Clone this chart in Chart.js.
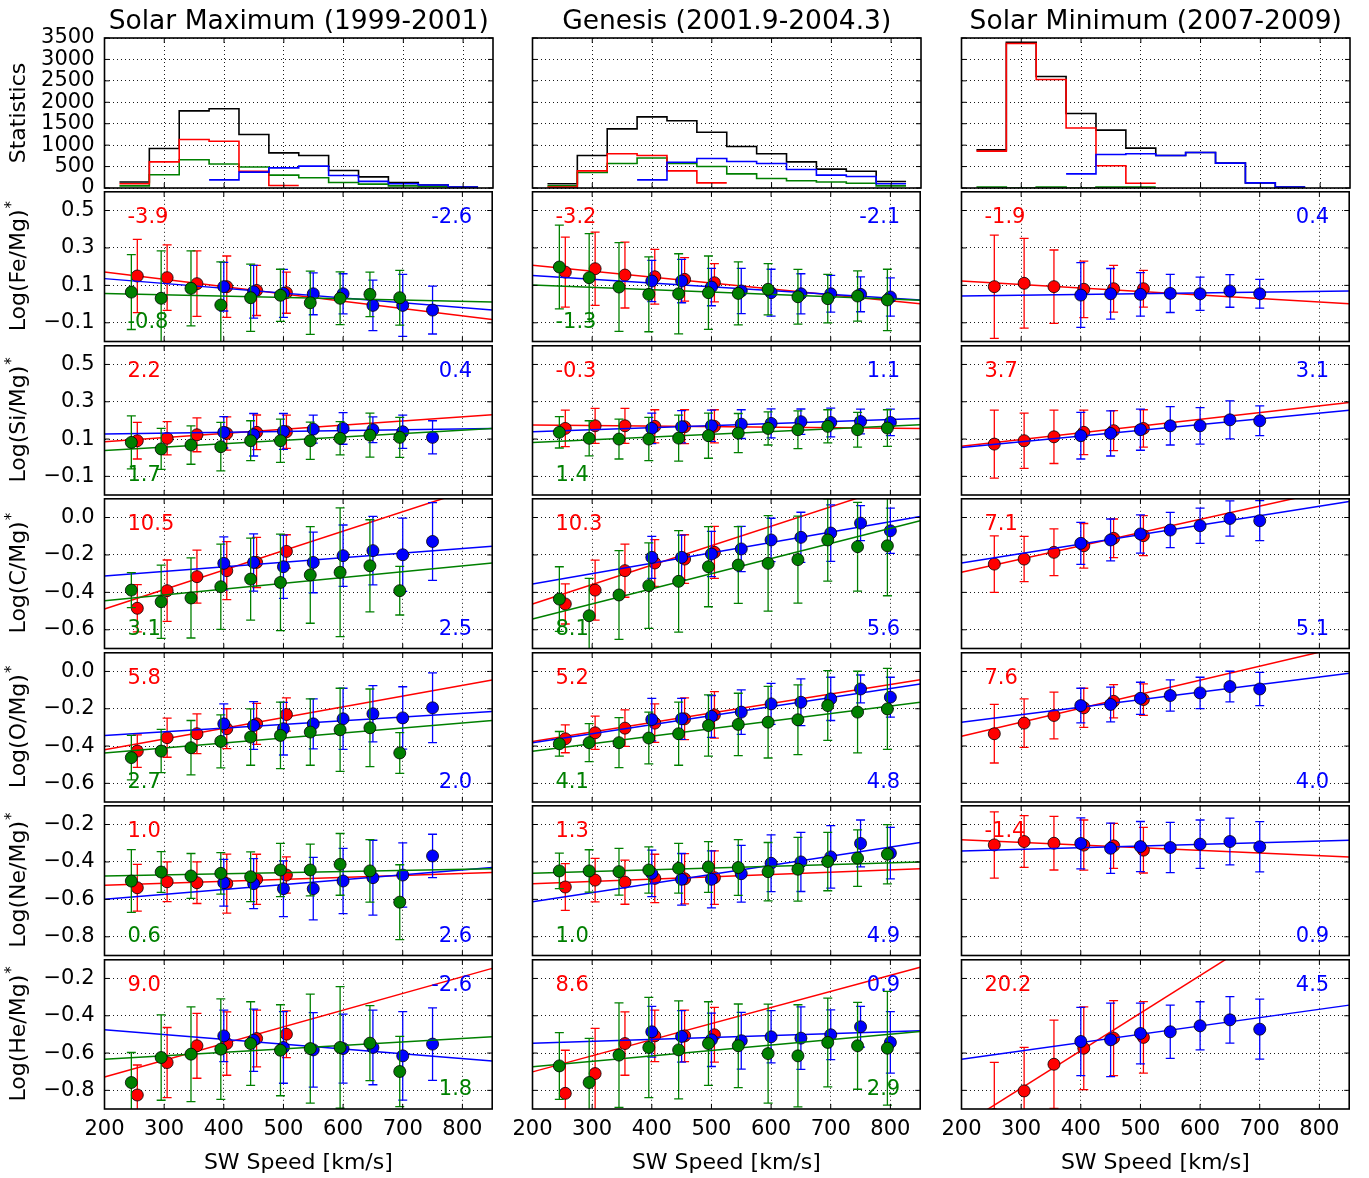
<!DOCTYPE html>
<html>
<head>
<meta charset="utf-8">
<title>Abundance ratios vs solar wind speed</title>
<script src="https://cdn.jsdelivr.net/npm/chart.js@4.4.1/dist/chart.umd.min.js"></script>
<style>
  html, body { margin: 0; padding: 0; background: #fff; }
  #figure { position: relative; width: 1369px; height: 1178px; overflow: hidden; background: #fff; }
  #figure canvas { position: absolute; }
</style>
</head>
<body>
<div id="figure"></div>
<script>
const FONT = '"DejaVu Sans", sans-serif';
const COLORS = {
    red: '#ff0000',
    blue: '#0000ff',
    green: '#008000',
    black: '#000000',
};

const COLUMN_TITLES = ['Solar Maximum (1999-2001)', 'Genesis (2001.9-2004.3)', 'Solar Minimum (2007-2009)'];
const ROW_LABELS = ['Statistics', 'Log(Fe/Mg)', 'Log(Si/Mg)', 'Log(C/Mg)', 'Log(O/Mg)', 'Log(Ne/Mg)', 'Log(He/Mg)'];
const X_LABEL = 'SW Speed [km/s]';
const X_MIN = 200, X_MAX = 850;
const X_TICKS = [200, 300, 400, 500, 600, 700, 800];
const HIST_TICKS = [0, 500, 1000, 1500, 2000, 2500, 3000, 3500];
const FE_SI_TICKS = [-0.1, 0.1, 0.3, 0.5];
const C_O_TICKS = [-0.6, -0.4, -0.2, 0.0];
const NE_HE_TICKS = [-0.8, -0.6, -0.4, -0.2];
const ROW_RANGES = [[0, 3500], [-0.2, 0.6], [-0.2, 0.6], [-0.7, 0.1], [-0.7, 0.1], [-0.9, -0.1], [-0.9, -0.1]];
const ROW_TICKS = [HIST_TICKS, FE_SI_TICKS, FE_SI_TICKS, C_O_TICKS, C_O_TICKS, NE_HE_TICKS, NE_HE_TICKS];

// histogram counts per 50 km/s bin (null = no entry)
const HIST_BINS = [250, 300, 350, 400, 450, 500, 550, 600, 650, 700, 750, 800];
const HIST_BIN_WIDTH = 50;
const maxHistAll   = [140, 920, 1800, 1850, 1250, 820, 760, 410, 260, 130, 70, 20];
const maxHistRed   = [100, 610, 1130, 1090, 390, 60, null, null, null, null, null, null];
const maxHistBlue  = [null, null, null, 190, 370, 470, 510, 290, 155, 100, 70, 20];
const maxHistGreen = [50, 310, 660, 560, 490, 300, 240, 130, 90, 50, 30, null];
const genHistAll   = [100, 760, 1380, 1660, 1570, 1300, 970, 800, 610, 440, 390, 150];
const genHistRed   = [20, 400, 800, 760, 400, 120, null, null, null, null, null, null];
const genHistBlue  = [null, null, null, 190, 600, 690, 620, 570, 430, 300, 270, 100];
const genHistGreen = [50, 360, 570, 700, 570, 500, 330, 220, 170, 140, 110, 50];
const minHistAll   = [890, 3400, 2600, 1740, 1350, 930, 760, 830, 580, 120, 20, null];
const minHistRed   = [860, 3370, 2530, 1400, 520, 110, null, null, null, null, null, null];
const minHistBlue  = [null, null, null, 330, 780, 800, 760, 830, 580, 120, 20, null];
const minHistGreen = [20, 0, 20, 0, 20, 20, null, null, null, null, null, null];

// speed positions of the points
const RED_X = [255, 305, 355, 405, 455, 505];
const MAX_BLUE_X = [400, 450, 500, 550, 600, 650, 700, 750];
const MAX_GREEN_X = [245, 295, 345, 395, 445, 495, 545, 595, 645, 695];
const GEN_BLUE_X = [400, 450, 500, 550, 600, 650, 700, 750, 800];
const GEN_GREEN_X = [245, 295, 345, 395, 445, 495, 545, 595, 645, 695, 745, 795];
const MIN_BLUE_X = [400, 450, 500, 550, 600, 650, 700];
const FIT_X = [200, 850];

// ---- Solar maximum ----
const feMaxRed = [0.150, 0.141, 0.109, 0.093, 0.073, 0.061];
const feMaxRedErr = [0.196, 0.175, 0.175, 0.164, 0.134, 0.110];
const feMaxBlue = [0.093, 0.066, 0.057, 0.055, 0.055, -0.007, -0.007, -0.032];
const feMaxBlueErr = [0.130, 0.141, 0.128, 0.112, 0.107, 0.135, 0.166, 0.128];
const feMaxGreen = [0.064, 0.031, 0.084, -0.005, 0.034, 0.047, 0.007, 0.031, 0.052, 0.034];
const feMaxGreenErr = [0.200, 0.253, 0.200, 0.230, 0.180, 0.139, 0.169, 0.141, 0.119, 0.146];
const feMaxFits = [[0.171, -0.082], [0.136, -0.032], [0.057, 0.011]];
const feMaxNotes = ['-3.9', '-2.6', '-0.8'];

const siMaxRed = [0.091, 0.104, 0.123, 0.130, 0.136, 0.139];
const siMaxRedErr = [0.098, 0.089, 0.091, 0.089, 0.093, 0.089];
const siMaxBlue = [0.136, 0.123, 0.141, 0.153, 0.157, 0.150, 0.139, 0.109];
const siMaxBlueErr = [0.084, 0.114, 0.096, 0.075, 0.085, 0.069, 0.089, 0.089];
const siMaxGreen = [0.082, 0.047, 0.068, 0.059, 0.091, 0.091, 0.091, 0.104, 0.121, 0.109];
const siMaxGreenErr = [0.142, 0.110, 0.103, 0.130, 0.107, 0.116, 0.100, 0.089, 0.118, 0.107];
const siMaxFits = [[0.086, 0.230], [0.127, 0.157], [0.038, 0.157]];
const siMaxNotes = ['2.2', '0.4', '1.7'];

const cMaxRed = [-0.485, -0.391, -0.316, -0.284, -0.240, -0.181];
const cMaxRedErr = [0.126, 0.164, 0.142, 0.155, 0.134, 0.089];
const cMaxBlue = [-0.245, -0.240, -0.263, -0.240, -0.204, -0.177, -0.199, -0.128];
const cMaxBlueErr = [0.142, 0.153, 0.169, 0.162, 0.164, 0.183, 0.196, 0.208];
const cMaxGreen = [-0.388, -0.450, -0.430, -0.370, -0.329, -0.347, -0.307, -0.293, -0.258, -0.391];
const cMaxGreenErr = [0.094, 0.196, 0.214, 0.228, 0.219, 0.258, 0.258, 0.344, 0.246, 0.130];
const cMaxFits = [[-0.489, 0.187], [-0.313, -0.154], [-0.445, -0.243]];
const cMaxNotes = ['10.5', '2.5', '3.1'];

const oMaxRed = [-0.427, -0.355, -0.334, -0.307, -0.281, -0.231];
const oMaxRedErr = [0.087, 0.105, 0.107, 0.107, 0.110, 0.089];
const oMaxBlue = [-0.281, -0.290, -0.307, -0.281, -0.254, -0.227, -0.249, -0.195];
const oMaxBlueErr = [0.107, 0.128, 0.141, 0.134, 0.164, 0.151, 0.167, 0.187];
const oMaxGreen = [-0.462, -0.427, -0.409, -0.375, -0.352, -0.343, -0.325, -0.313, -0.302, -0.437];
const oMaxGreenErr = [0.119, 0.116, 0.146, 0.142, 0.151, 0.178, 0.178, 0.223, 0.208, 0.109];
const oMaxFits = [[-0.420, -0.046], [-0.343, -0.215], [-0.437, -0.263]];
const oMaxNotes = ['5.8', '2.0', '2.7'];

const neMaxRed = [-0.538, -0.506, -0.511, -0.516, -0.493, -0.470];
const neMaxRedErr = [0.125, 0.106, 0.111, 0.158, 0.134, 0.097];
const neMaxBlue = [-0.511, -0.516, -0.543, -0.543, -0.502, -0.484, -0.470, -0.368];
const neMaxBlueErr = [0.125, 0.134, 0.149, 0.167, 0.174, 0.200, 0.172, 0.116];
const neMaxGreen = [-0.502, -0.454, -0.475, -0.461, -0.479, -0.443, -0.443, -0.413, -0.448, -0.615];
const neMaxGreenErr = [0.168, 0.109, 0.120, 0.111, 0.133, 0.142, 0.138, 0.165, 0.167, 0.200];
const neMaxFits = [[-0.525, -0.457], [-0.600, -0.430], [-0.475, -0.436]];
const neMaxNotes = ['1.0', '2.6', '0.6'];

const heMaxRed = [-0.825, -0.651, -0.561, -0.549, -0.522, -0.499];
const heMaxRedErr = [0.161, 0.188, 0.174, 0.170, 0.152, 0.125];
const heMaxBlue = [-0.508, -0.531, -0.570, -0.583, -0.576, -0.570, -0.615, -0.552];
const heMaxBlueErr = [0.138, 0.167, 0.192, 0.200, 0.185, 0.200, 0.237, 0.194];
const heMaxGreen = [-0.758, -0.624, -0.606, -0.579, -0.549, -0.585, -0.576, -0.570, -0.547, -0.699];
const heMaxGreenErr = [0.161, 0.229, 0.254, 0.269, 0.224, 0.244, 0.292, 0.326, 0.201, 0.188];
const heMaxFits = [[-0.728, -0.146], [-0.475, -0.642], [-0.633, -0.513]];
const heMaxNotes = ['9.0', '-2.6', '1.8'];

// ---- Genesis ----
const feGenRed = [0.171, 0.189, 0.155, 0.146, 0.132, 0.114];
const feGenRedErr = [0.187, 0.196, 0.176, 0.146, 0.116, 0.102];
const feGenBlue = [0.123, 0.123, 0.091, 0.070, 0.061, 0.055, 0.055, 0.052, 0.038];
const feGenBlueErr = [0.110, 0.116, 0.100, 0.121, 0.125, 0.107, 0.098, 0.093, 0.102];
const feGenGreen = [0.198, 0.141, 0.091, 0.052, 0.055, 0.061, 0.057, 0.079, 0.039, 0.029, 0.043, 0.022];
const feGenGreenErr = [0.224, 0.235, 0.237, 0.200, 0.214, 0.196, 0.168, 0.137, 0.146, 0.130, 0.134, 0.164];
const feGenFits = [[0.207, 0.002], [0.153, 0.022], [0.102, 0.020]];
const feGenNotes = ['-3.2', '-2.1', '-1.3'];

const siGenRed = [0.157, 0.171, 0.171, 0.168, 0.166, 0.168];
const siGenRedErr = [0.098, 0.094, 0.094, 0.089, 0.091, 0.089];
const siGenBlue = [0.157, 0.166, 0.171, 0.180, 0.184, 0.193, 0.189, 0.194, 0.189];
const siGenBlueErr = [0.082, 0.086, 0.084, 0.077, 0.078, 0.068, 0.077, 0.066, 0.071];
const siGenGreen = [0.136, 0.104, 0.100, 0.100, 0.105, 0.118, 0.132, 0.157, 0.150, 0.168, 0.150, 0.159];
const siGenGreenErr = [0.084, 0.094, 0.107, 0.116, 0.123, 0.121, 0.105, 0.089, 0.101, 0.089, 0.093, 0.098];
const siGenFits = [[0.175, 0.157], [0.139, 0.210], [0.082, 0.177]];
const siGenNotes = ['-0.3', '1.1', '1.4'];

const cGenRed = [-0.462, -0.388, -0.284, -0.243, -0.222, -0.186];
const cGenRedErr = [0.107, 0.160, 0.142, 0.125, 0.130, 0.139];
const cGenBlue = [-0.213, -0.213, -0.195, -0.168, -0.120, -0.106, -0.083, -0.030, -0.071];
const cGenBlueErr = [0.112, 0.119, 0.121, 0.121, 0.116, 0.134, 0.151, 0.093, 0.121];
const cGenGreen = [-0.436, -0.525, -0.414, -0.364, -0.341, -0.263, -0.254, -0.245, -0.225, -0.120, -0.156, -0.151];
const cGenGreenErr = [0.173, 0.200, 0.237, 0.228, 0.271, 0.214, 0.205, 0.255, 0.232, 0.220, 0.237, 0.267];
const cGenFits = [[-0.462, 0.213], [-0.355, 0.006], [-0.542, -0.017]];
const cGenNotes = ['10.3', '5.6', '8.1'];

const oGenRed = [-0.361, -0.329, -0.304, -0.277, -0.254, -0.233];
const oGenRedErr = [0.075, 0.089, 0.098, 0.103, 0.112, 0.125];
const oGenBlue = [-0.258, -0.254, -0.241, -0.218, -0.174, -0.165, -0.147, -0.094, -0.138];
const oGenBlueErr = [0.114, 0.110, 0.112, 0.119, 0.110, 0.125, 0.116, 0.075, 0.107];
const oGenGreen = [-0.388, -0.382, -0.382, -0.357, -0.334, -0.290, -0.284, -0.272, -0.259, -0.183, -0.218, -0.201];
const oGenGreenErr = [0.066, 0.102, 0.134, 0.139, 0.169, 0.164, 0.167, 0.192, 0.187, 0.187, 0.219, 0.217];
const oGenFits = [[-0.375, -0.044], [-0.382, -0.067], [-0.428, -0.165]];
const oGenNotes = ['5.2', '4.8', '4.1'];

const neGenRed = [-0.534, -0.497, -0.508, -0.488, -0.490, -0.484];
const neGenRedErr = [0.125, 0.116, 0.118, 0.129, 0.134, 0.143];
const neGenBlue = [-0.461, -0.493, -0.493, -0.463, -0.407, -0.400, -0.373, -0.301, -0.353];
const neGenBlueErr = [0.124, 0.138, 0.152, 0.152, 0.152, 0.158, 0.167, 0.125, 0.138];
const neGenGreen = [-0.448, -0.448, -0.452, -0.443, -0.434, -0.427, -0.430, -0.452, -0.439, -0.398, -0.380, -0.359];
const neGenGreenErr = [0.095, 0.113, 0.125, 0.124, 0.133, 0.136, 0.149, 0.156, 0.170, 0.156, 0.151, 0.158];
const neGenFits = [[-0.516, -0.436], [-0.613, -0.296], [-0.461, -0.400]];
const neGenNotes = ['1.3', '4.9', '1.0'];

const heGenRed = [-0.816, -0.710, -0.549, -0.508, -0.508, -0.502];
const heGenRedErr = [0.231, 0.242, 0.170, 0.138, 0.138, 0.147];
const heGenBlue = [-0.486, -0.511, -0.529, -0.534, -0.513, -0.520, -0.502, -0.459, -0.543];
const heGenBlueErr = [0.136, 0.138, 0.143, 0.152, 0.140, 0.168, 0.133, 0.109, 0.165];
const heGenGreen = [-0.669, -0.758, -0.611, -0.570, -0.583, -0.549, -0.561, -0.603, -0.615, -0.543, -0.561, -0.574];
const heGenGreenErr = [0.179, 0.237, 0.280, 0.269, 0.263, 0.224, 0.224, 0.265, 0.274, 0.238, 0.233, 0.305];
const heGenFits = [[-0.701, -0.140], [-0.547, -0.481], [-0.674, -0.484]];
const heGenNotes = ['8.6', '0.9', '2.9'];

// ---- Solar minimum (no green population) ----
const feMinRed = [0.093, 0.111, 0.093, 0.079, 0.082, 0.082];
const feMinRedErr = [0.276, 0.240, 0.196, 0.151, 0.125, 0.098];
const feMinBlue = [0.048, 0.055, 0.052, 0.057, 0.055, 0.070, 0.055];
const feMinBlueErr = [0.173, 0.135, 0.116, 0.102, 0.089, 0.087, 0.077];
const feMinFits = [[0.123, 0.002], [0.043, 0.070]];
const feMinNotes = ['-1.9', '0.4'];

const siMinRed = [0.073, 0.091, 0.112, 0.136, 0.145, 0.157];
const siMinRedErr = [0.182, 0.148, 0.143, 0.119, 0.107, 0.100];
const siMinBlue = [0.118, 0.130, 0.150, 0.171, 0.171, 0.203, 0.198];
const siMinBlueErr = [0.125, 0.121, 0.110, 0.103, 0.098, 0.102, 0.080];
const siMinFits = [[0.061, 0.296], [0.055, 0.255]];
const siMinNotes = ['3.7', '3.1'];

const cMinRed = [-0.249, -0.222, -0.186, -0.151, -0.111, -0.097];
const cMinRedErr = [0.151, 0.121, 0.125, 0.119, 0.103, 0.107];
const cMinBlue = [-0.138, -0.120, -0.088, -0.067, -0.044, -0.005, -0.017];
const cMinBlueErr = [0.112, 0.112, 0.102, 0.094, 0.094, 0.094, 0.107];
const cMinFits = [[-0.293, 0.167], [-0.243, 0.086]];
const cMinNotes = ['7.1', '5.1'];

const oMinRed = [-0.334, -0.277, -0.236, -0.195, -0.160, -0.151];
const oMinRedErr = [0.157, 0.130, 0.125, 0.105, 0.089, 0.084];
const oMinBlue = [-0.183, -0.177, -0.144, -0.129, -0.115, -0.081, -0.094];
const oMinBlueErr = [0.093, 0.093, 0.086, 0.084, 0.084, 0.082, 0.089];
const oMinFits = [[-0.347, 0.141], [-0.272, -0.010]];
const oMinNotes = ['7.6', '4.0'];

const neMinRed = [-0.309, -0.291, -0.300, -0.310, -0.314, -0.337];
const neMinRedErr = [0.177, 0.138, 0.143, 0.134, 0.120, 0.122];
const neMinBlue = [-0.301, -0.327, -0.318, -0.323, -0.305, -0.291, -0.319];
const neMinBlueErr = [0.136, 0.134, 0.134, 0.134, 0.129, 0.125, 0.134];
const neMinFits = [[-0.282, -0.373], [-0.341, -0.284]];
const neMinNotes = ['-1.4', '0.9'];

const heMinRed = [-0.930, -0.803, -0.660, -0.574, -0.520, -0.516];
const heMinRedErr = [0.280, 0.233, 0.237, 0.222, 0.201, 0.192];
const heMinBlue = [-0.538, -0.529, -0.495, -0.486, -0.454, -0.422, -0.472];
const heMinBlueErr = [0.183, 0.197, 0.163, 0.143, 0.129, 0.125, 0.161];
const heMinFits = [[-0.990, 0.319], [-0.633, -0.343]];
const heMinNotes = ['20.2', '4.5'];

// ---- layout ----
const PLOT_W = 388.5;
const PLOT_H = 150;
const COL_LEFT = [104.5, 532.5, 961.5];
const ROW_TOP0 = 38;
const ROW_STEP = 153.5;
const FIG_H = 1178;
const TICK_LEN = 5;
const CAP = 4.5;
const SERIES_COLORS = [COLORS.red, COLORS.blue, COLORS.green];

const COLUMNS = [
    {
        hist: [maxHistAll, maxHistGreen, maxHistRed, maxHistBlue],
        xs: [RED_X, MAX_BLUE_X, MAX_GREEN_X],
        rows: [
            { series: [feMaxRed, feMaxBlue, feMaxGreen], errors: [feMaxRedErr, feMaxBlueErr, feMaxGreenErr], fits: feMaxFits, notes: feMaxNotes, corners: ['tl', 'tr', 'bl'] },
            { series: [siMaxRed, siMaxBlue, siMaxGreen], errors: [siMaxRedErr, siMaxBlueErr, siMaxGreenErr], fits: siMaxFits, notes: siMaxNotes, corners: ['tl', 'tr', 'bl'] },
            { series: [cMaxRed, cMaxBlue, cMaxGreen], errors: [cMaxRedErr, cMaxBlueErr, cMaxGreenErr], fits: cMaxFits, notes: cMaxNotes, corners: ['tl', 'br', 'bl'] },
            { series: [oMaxRed, oMaxBlue, oMaxGreen], errors: [oMaxRedErr, oMaxBlueErr, oMaxGreenErr], fits: oMaxFits, notes: oMaxNotes, corners: ['tl', 'br', 'bl'] },
            { series: [neMaxRed, neMaxBlue, neMaxGreen], errors: [neMaxRedErr, neMaxBlueErr, neMaxGreenErr], fits: neMaxFits, notes: neMaxNotes, corners: ['tl', 'br', 'bl'] },
            { series: [heMaxRed, heMaxBlue, heMaxGreen], errors: [heMaxRedErr, heMaxBlueErr, heMaxGreenErr], fits: heMaxFits, notes: heMaxNotes, corners: ['tl', 'tr', 'br'] },
        ],
    },
    {
        hist: [genHistAll, genHistGreen, genHistRed, genHistBlue],
        xs: [RED_X, GEN_BLUE_X, GEN_GREEN_X],
        rows: [
            { series: [feGenRed, feGenBlue, feGenGreen], errors: [feGenRedErr, feGenBlueErr, feGenGreenErr], fits: feGenFits, notes: feGenNotes, corners: ['tl', 'tr', 'bl'] },
            { series: [siGenRed, siGenBlue, siGenGreen], errors: [siGenRedErr, siGenBlueErr, siGenGreenErr], fits: siGenFits, notes: siGenNotes, corners: ['tl', 'tr', 'bl'] },
            { series: [cGenRed, cGenBlue, cGenGreen], errors: [cGenRedErr, cGenBlueErr, cGenGreenErr], fits: cGenFits, notes: cGenNotes, corners: ['tl', 'br', 'bl'] },
            { series: [oGenRed, oGenBlue, oGenGreen], errors: [oGenRedErr, oGenBlueErr, oGenGreenErr], fits: oGenFits, notes: oGenNotes, corners: ['tl', 'br', 'bl'] },
            { series: [neGenRed, neGenBlue, neGenGreen], errors: [neGenRedErr, neGenBlueErr, neGenGreenErr], fits: neGenFits, notes: neGenNotes, corners: ['tl', 'br', 'bl'] },
            { series: [heGenRed, heGenBlue, heGenGreen], errors: [heGenRedErr, heGenBlueErr, heGenGreenErr], fits: heGenFits, notes: heGenNotes, corners: ['tl', 'tr', 'br'] },
        ],
    },
    {
        hist: [minHistAll, minHistGreen, minHistRed, minHistBlue],
        xs: [RED_X, MIN_BLUE_X],
        rows: [
            { series: [feMinRed, feMinBlue], errors: [feMinRedErr, feMinBlueErr], fits: feMinFits, notes: feMinNotes, corners: ['tl', 'tr'] },
            { series: [siMinRed, siMinBlue], errors: [siMinRedErr, siMinBlueErr], fits: siMinFits, notes: siMinNotes, corners: ['tl', 'tr'] },
            { series: [cMinRed, cMinBlue], errors: [cMinRedErr, cMinBlueErr], fits: cMinFits, notes: cMinNotes, corners: ['tl', 'br'] },
            { series: [oMinRed, oMinBlue], errors: [oMinRedErr, oMinBlueErr], fits: oMinFits, notes: oMinNotes, corners: ['tl', 'br'] },
            { series: [neMinRed, neMinBlue], errors: [neMinRedErr, neMinBlueErr], fits: neMinFits, notes: neMinNotes, corners: ['tl', 'br'] },
            { series: [heMinRed, heMinBlue], errors: [heMinRedErr, heMinBlueErr], fits: heMinFits, notes: heMinNotes, corners: ['tl', 'tr'] },
        ],
    },
];
const HIST_COLORS = [COLORS.black, COLORS.green, COLORS.red, COLORS.blue];

Chart.defaults.font.family = FONT;
Chart.defaults.color = '#000';

const figure = document.getElementById('figure');

function formatLog(v) {
    return (v < 0 ? '\u2212' : '') + Math.abs(v).toFixed(1);
}

function stepPoints(bins, counts) {
    const pts = [];
    let last = -1;
    bins.forEach((b, i) => {
        if (counts[i] === null) return;
        pts.push({ x: b - HIST_BIN_WIDTH / 2, y: counts[i] });
        last = i;
    });
    if (last >= 0) pts.push({ x: bins[last] + HIST_BIN_WIDTH / 2, y: counts[last] });
    return pts;
}

function decoPlugin(deco) {
    return {
        id: 'deco',
        beforeDatasetDraw(chart, args) {
            const ds = chart.data.datasets[args.index];
            if (!ds.errors) return;
            const { ctx, chartArea: a, scales } = chart;
            ctx.save();
            ctx.beginPath();
            ctx.rect(a.left, a.top, a.right - a.left, a.bottom - a.top);
            ctx.clip();
            ctx.strokeStyle = ds.errorColor;
            ctx.lineWidth = 1.3;
            ctx.beginPath();
            ds.data.forEach((p, i) => {
                const px = scales.x.getPixelForValue(p.x);
                const hi = scales.y.getPixelForValue(p.y + ds.errors[i]);
                const lo = scales.y.getPixelForValue(p.y - ds.errors[i]);
                ctx.moveTo(px, hi); ctx.lineTo(px, lo);
                ctx.moveTo(px - CAP, hi); ctx.lineTo(px + CAP, hi);
                ctx.moveTo(px - CAP, lo); ctx.lineTo(px + CAP, lo);
            });
            ctx.stroke();
            ctx.restore();
        },
        afterDraw(chart) {
            const { ctx, chartArea: a, scales } = chart;
            ctx.save();
            // inward ticks on all four sides
            ctx.strokeStyle = '#000';
            ctx.lineWidth = 1;
            ctx.beginPath();
            scales.x.ticks.forEach(t => {
                const px = scales.x.getPixelForValue(t.value);
                ctx.moveTo(px, a.bottom); ctx.lineTo(px, a.bottom - TICK_LEN);
                ctx.moveTo(px, a.top); ctx.lineTo(px, a.top + TICK_LEN);
            });
            scales.y.ticks.forEach(t => {
                const py = scales.y.getPixelForValue(t.value);
                ctx.moveTo(a.left, py); ctx.lineTo(a.left + TICK_LEN, py);
                ctx.moveTo(a.right, py); ctx.lineTo(a.right - TICK_LEN, py);
            });
            ctx.stroke();
            ctx.lineWidth = 1.6;
            ctx.strokeRect(a.left, a.top, a.right - a.left, a.bottom - a.top);

            // slope numbers
            ctx.font = `21px ${FONT}`;
            ctx.textBaseline = 'alphabetic';
            deco.notes.forEach(n => {
                ctx.fillStyle = n.color;
                const left = n.corner[1] === 'l';
                ctx.textAlign = left ? 'left' : 'right';
                const x = left ? a.left + 23 : a.right - 20;
                const y = n.corner[0] === 't' ? a.top + 31 : a.bottom - 14;
                ctx.fillText(n.text, x, y);
            });

            ctx.fillStyle = '#000';
            if (deco.title) {
                ctx.font = `26.5px ${FONT}`;
                ctx.textAlign = 'center';
                ctx.fillText(deco.title, (a.left + a.right) / 2, a.top - 9);
            }
            if (deco.ylabel) {
                ctx.translate(18, (a.top + a.bottom) / 2);
                ctx.rotate(-Math.PI / 2);
                ctx.font = `22px ${FONT}`;
                const w = ctx.measureText(deco.ylabel).width;
                let ws = 0;
                if (deco.sup) {
                    ctx.font = `15px ${FONT}`;
                    ws = ctx.measureText('*').width;
                }
                const start = -(w + ws) / 2;
                ctx.textAlign = 'left';
                ctx.font = `22px ${FONT}`;
                ctx.fillText(deco.ylabel, start, 7);
                if (deco.sup) {
                    ctx.font = `15px ${FONT}`;
                    ctx.fillText('*', start + w + 1, -2);
                }
            }
            ctx.restore();
        },
    };
}

function addCanvas(left, top, width, height) {
    const c = document.createElement('canvas');
    c.width = width;
    c.height = height;
    c.style.left = left + 'px';
    c.style.top = top + 'px';
    c.style.width = width + 'px';
    c.style.height = height + 'px';
    figure.appendChild(c);
    return c;
}

function buildPanel(col, row) {
    const isBottom = row === ROW_RANGES.length - 1;
    const canvasLeft = col === 0 ? 0 : Math.floor(COL_LEFT[col] - 40);
    const yAxisW = COL_LEFT[col] - canvasLeft;
    const canvasW = Math.ceil(yAxisW + PLOT_W + 6);
    const padRight = canvasW - yAxisW - PLOT_W;
    const rowTop = ROW_TOP0 + ROW_STEP * row;
    const canvasTop = row === 0 ? 0 : Math.floor(rowTop - 6);
    const padTop = rowTop - canvasTop;
    let canvasH, padBottom, xAxisH;
    if (isBottom) {
        canvasH = FIG_H - canvasTop;
        padBottom = 0;
        xAxisH = canvasH - padTop - PLOT_H;
    } else {
        canvasH = Math.ceil(padTop + PLOT_H + 14);
        padBottom = canvasH - padTop - PLOT_H;
        xAxisH = 0;
    }
    const canvas = addCanvas(canvasLeft, canvasTop, canvasW, canvasH);
    const column = COLUMNS[col];
    const datasets = [];
    const deco = { notes: [] };

    if (row === 0) {
        deco.title = COLUMN_TITLES[col];
        column.hist.forEach((counts, k) => {
            datasets.push({
                data: stepPoints(HIST_BINS, counts),
                borderColor: HIST_COLORS[k],
                borderWidth: 1.6,
                pointRadius: 0,
                stepped: 'before',
                fill: false,
                showLine: true,
                order: 10 - k,
                clip: 0,
            });
        });
    } else {
        const spec = column.rows[row - 1];
        spec.series.forEach((values, k) => {
            const color = SERIES_COLORS[k];
            datasets.push({
                data: FIT_X.map((x, i) => ({ x, y: spec.fits[k][i] })),
                borderColor: color,
                borderWidth: 1.5,
                pointRadius: 0,
                showLine: true,
                fill: false,
                order: 20 - 2 * k,
                clip: 0,
            });
            datasets.push({
                data: column.xs[k].map((x, i) => ({ x, y: values[i] })),
                errors: spec.errors[k],
                errorColor: color,
                backgroundColor: color,
                borderColor: '#000',
                pointBackgroundColor: color,
                pointBorderColor: '#000',
                pointBorderWidth: 0.8,
                pointRadius: 6,
                showLine: false,
                order: 19 - 2 * k,
                clip: 0,
            });
        });
        deco.notes = spec.notes.map((text, k) => ({ text, color: SERIES_COLORS[k], corner: spec.corners[k] }));
    }
    if (col === 0) {
        deco.ylabel = ROW_LABELS[row];
        deco.sup = row > 0;
    }

    const gridStyle = { color: '#000', lineWidth: 0.9, drawTicks: false };
    const borderStyle = { display: false, dash: [1, 3] };
    const tickFont = { family: FONT, size: 21 };

    new Chart(canvas, {
        type: 'scatter',
        data: { datasets },
        options: {
            responsive: false,
            animation: false,
            devicePixelRatio: 1,
            events: [],
            layout: { padding: { left: 0, top: padTop, right: padRight, bottom: padBottom } },
            plugins: { legend: { display: false }, tooltip: { enabled: false } },
            scales: {
                x: {
                    type: 'linear',
                    min: X_MIN,
                    max: X_MAX,
                    bounds: 'data',
                    afterBuildTicks: s => { s.ticks = X_TICKS.map(v => ({ value: v })); },
                    afterFit: s => { s.height = xAxisH; s.paddingLeft = 0; s.paddingRight = 0; },
                    grid: gridStyle,
                    border: borderStyle,
                    ticks: {
                        display: isBottom,
                        color: '#000',
                        font: tickFont,
                        padding: 8,
                        maxRotation: 0,
                        autoSkip: false,
                        callback: v => String(v),
                    },
                    title: {
                        display: isBottom,
                        text: X_LABEL,
                        color: '#000',
                        font: { family: FONT, size: 22 },
                        padding: { top: 0, bottom: 2 },
                    },
                },
                y: {
                    type: 'linear',
                    min: ROW_RANGES[row][0],
                    max: ROW_RANGES[row][1],
                    bounds: 'data',
                    afterBuildTicks: s => { s.ticks = ROW_TICKS[row].map(v => ({ value: v })); },
                    afterFit: s => { s.width = yAxisW; s.paddingTop = 0; s.paddingBottom = 0; },
                    grid: gridStyle,
                    border: borderStyle,
                    ticks: {
                        display: col === 0,
                        color: '#000',
                        font: tickFont,
                        padding: 10,
                        autoSkip: false,
                        callback: row === 0 ? (v => String(v)) : formatLog,
                    },
                },
            },
        },
        plugins: [decoPlugin(deco)],
    });
}

for (let col = 0; col < COLUMNS.length; col++) {
    for (let row = 0; row < ROW_RANGES.length; row++) {
        buildPanel(col, row);
    }
}
</script>
</body>
</html>
